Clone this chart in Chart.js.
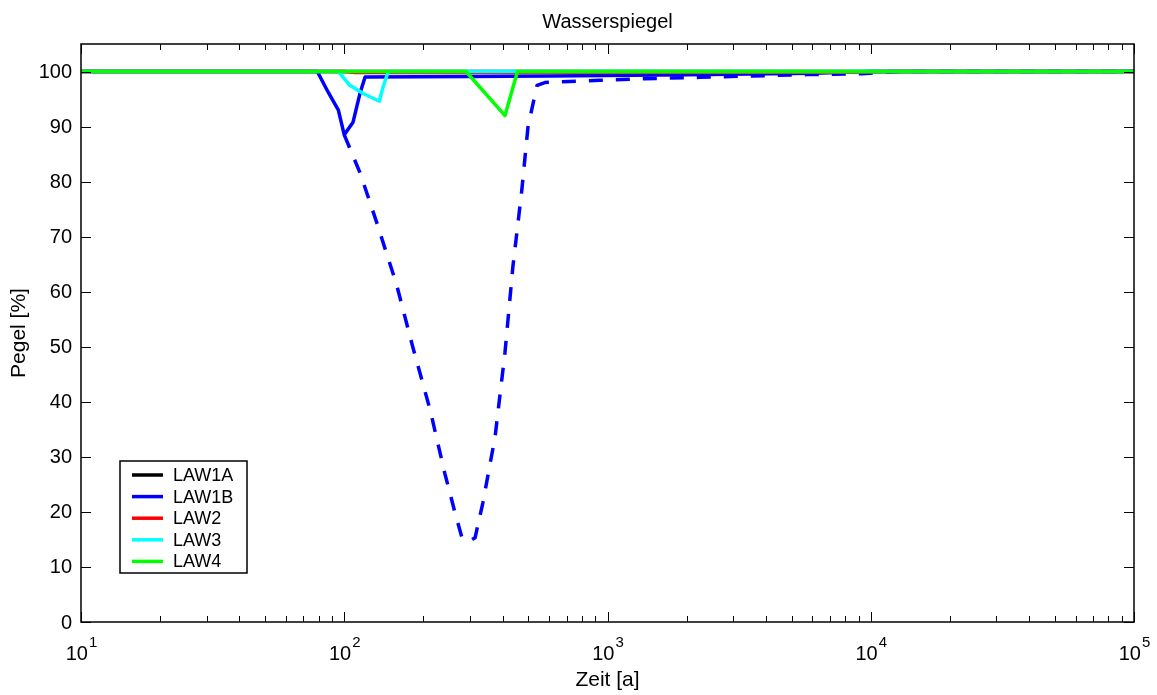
<!DOCTYPE html>
<html>
<head>
<meta charset="utf-8">
<script src="https://cdn.jsdelivr.net/npm/chart.js@4/dist/chart.umd.min.js"></script>
<style>
  html, body { margin: 0; padding: 0; background: #fff; }
  #wrap { width: 1157px; height: 695px; }
</style>
</head>
<body>
<div id="wrap"><canvas id="myChart" width="1157" height="695"></canvas></div>
<script>
// time [a] and level [%] for each run
const timeLAW1A = [10, 100000];
const levelLAW1A = [100, 100];

const timeLAW1B = [10, 79, 87, 95, 100, 108, 115, 120, 300, 600, 2000, 6000, 10000, 100000];
const levelLAW1B = [100, 100, 96.2, 93, 88.5, 90.8, 96.2, 99.0, 99.1, 99.2, 99.4, 99.7, 100, 100];

// dashed continuation of LAW1B (not in the legend)
const timeLAW1Bdash = [100, 115, 133, 158, 182, 212, 241, 263, 280, 297, 314, 336, 374, 408, 437, 472, 499, 540, 578, 935, 1386, 2243, 3566, 5768, 9250, 13000, 100000];
const levelLAW1Bdash = [88.5, 81.5, 72.5, 61.3, 50, 38.5, 27, 20, 15.3, 14.6, 15.3, 21.6, 33.6, 49, 64.5, 78.2, 90, 97.5, 98.0, 98.4, 98.7, 98.95, 99.2, 99.45, 99.6, 100, 100];

const timeLAW2 = [10, 100, 110, 200, 600, 8000, 12000, 100000];
const levelLAW2 = [100, 100, 99.8, 99.8, 99.8, 99.85, 100, 100];

const timeLAW3 = [10, 95, 105, 118, 136, 140, 147, 100000];
const levelLAW3 = [100, 100, 97.5, 96, 94.6, 97, 100, 100];

const timeLAW4 = [10, 290, 408, 455, 100000];
const levelLAW4 = [100, 100, 92, 100, 100];

const yTicks = [0, 10, 20, 30, 40, 50, 60, 70, 80, 90, 100];
const xDecades = [1, 2, 3, 4, 5];

const FONT = "'Liberation Sans', Arial, Helvetica, sans-serif";

const toPoints = (xs, ys) => xs.map((t, i) => ({ x: t, y: ys[i] }));

const series = [
  { label: 'LAW1A', t: timeLAW1A, v: levelLAW1A, color: '#000000', order: 5 },
  { label: 'LAW1B', t: timeLAW1B, v: levelLAW1B, color: '#0000ff', order: 4 },
  { label: '', t: timeLAW1Bdash, v: levelLAW1Bdash, color: '#0000ff', order: 3, dash: [14, 13] },
  { label: 'LAW2', t: timeLAW2, v: levelLAW2, color: '#ff0000', order: 2 },
  { label: 'LAW3', t: timeLAW3, v: levelLAW3, color: '#00ffff', order: 1 },
  { label: 'LAW4', t: timeLAW4, v: levelLAW4, color: '#00ff00', order: 0 },
];

const datasets = series.map((s) => ({
  label: s.label,
  data: toPoints(s.t, s.v),
  borderColor: s.color,
  backgroundColor: s.color,
  borderWidth: 3.5,
  borderDash: s.dash || [],
  borderJoinStyle: 'round',
  pointRadius: 0,
  tension: 0,
  fill: false,
  order: s.order,
}));

function line(ctx, x1, y1, x2, y2) {
  ctx.beginPath();
  ctx.moveTo(x1, y1);
  ctx.lineTo(x2, y2);
  ctx.stroke();
}

// MATLAB style box, inward ticks, labels and legend
const matlabAxes = {
  id: 'matlabAxes',
  afterDatasetsDraw(chart) {
    const { ctx, chartArea: a, scales: { x, y } } = chart;
    ctx.save();
    ctx.strokeStyle = '#000';
    ctx.fillStyle = '#000';

    // ticks
    ctx.lineWidth = 1;
    yTicks.forEach((v) => {
      const py = Math.round(y.getPixelForValue(v)) + 0.5;
      line(ctx, a.left, py, a.left + 10, py);
      line(ctx, a.right - 10, py, a.right, py);
    });
    xDecades.forEach((d) => {
      for (let m = 1; m <= 9; m++) {
        const v = m * Math.pow(10, d);
        if (v > x.max) break;
        const len = m === 1 ? 10 : 6;
        const px = Math.round(x.getPixelForValue(v)) + 0.5;
        line(ctx, px, a.bottom, px, a.bottom - len);
        line(ctx, px, a.top, px, a.top + len);
      }
    });

    // box
    ctx.lineWidth = 1.5;
    ctx.strokeRect(a.left, a.top, a.right - a.left, a.bottom - a.top);

    // y tick labels
    ctx.font = '20px ' + FONT;
    ctx.textAlign = 'right';
    ctx.textBaseline = 'middle';
    yTicks.forEach((v) => {
      ctx.fillText(String(v), a.left - 9, y.getPixelForValue(v) + 1);
    });

    // x tick labels 10^n
    ctx.textAlign = 'left';
    ctx.textBaseline = 'alphabetic';
    xDecades.forEach((d) => {
      const px = x.getPixelForValue(Math.pow(10, d));
      ctx.font = '20px ' + FONT;
      const wb = ctx.measureText('10').width;
      ctx.font = '15px ' + FONT;
      const we = ctx.measureText(String(d)).width;
      const x0 = px - (wb + we) / 2;
      ctx.font = '20px ' + FONT;
      ctx.fillText('10', x0, a.bottom + 38);
      ctx.font = '15px ' + FONT;
      ctx.fillText(String(d), x0 + wb + 1, a.bottom + 25);
    });

    // titles
    const cx = (a.left + a.right) / 2;
    ctx.textAlign = 'center';
    ctx.font = '20px ' + FONT;
    ctx.fillText('Wasserspiegel', cx, 28);
    ctx.font = '21px ' + FONT;
    ctx.fillText('Zeit [a]', cx, 686);
    ctx.save();
    ctx.translate(25, (a.top + a.bottom) / 2);
    ctx.rotate(-Math.PI / 2);
    ctx.fillText('Pegel [%]', 0, 0);
    ctx.restore();

    // legend
    const items = chart.data.datasets.filter((ds) => ds.label);
    const lx = 120, ly = 461, lw = 127, lh = 112;
    ctx.fillStyle = '#fff';
    ctx.fillRect(lx, ly, lw, lh);
    ctx.lineWidth = 1.5;
    ctx.strokeStyle = '#000';
    ctx.strokeRect(lx, ly, lw, lh);
    ctx.font = '18px ' + FONT;
    ctx.textAlign = 'left';
    ctx.textBaseline = 'middle';
    items.forEach((ds, i) => {
      const ry = 475 + i * 21.6;
      ctx.strokeStyle = ds.borderColor;
      ctx.lineWidth = 3.5;
      line(ctx, 132, ry, 163, ry);
      ctx.fillStyle = '#000';
      ctx.fillText(ds.label, 173, ry + 1);
    });

    ctx.restore();
  },
};

new Chart(document.getElementById('myChart'), {
  type: 'line',
  data: { datasets },
  options: {
    responsive: false,
    animation: false,
    layout: { padding: { top: 44, right: 23, left: 0, bottom: 0 } },
    scales: {
      x: {
        type: 'logarithmic',
        min: 10,
        max: 100000,
        ticks: { display: false },
        grid: { display: false },
        border: { display: false },
        afterFit: (scale) => { scale.height = 73; },
      },
      y: {
        type: 'linear',
        min: 0,
        max: 105,
        ticks: { display: false },
        grid: { display: false },
        border: { display: false },
        afterFit: (scale) => { scale.width = 81; },
      },
    },
    plugins: {
      legend: { display: false },
      tooltip: { enabled: false },
    },
  },
  plugins: [matlabAxes],
});
</script>
</body>
</html>
